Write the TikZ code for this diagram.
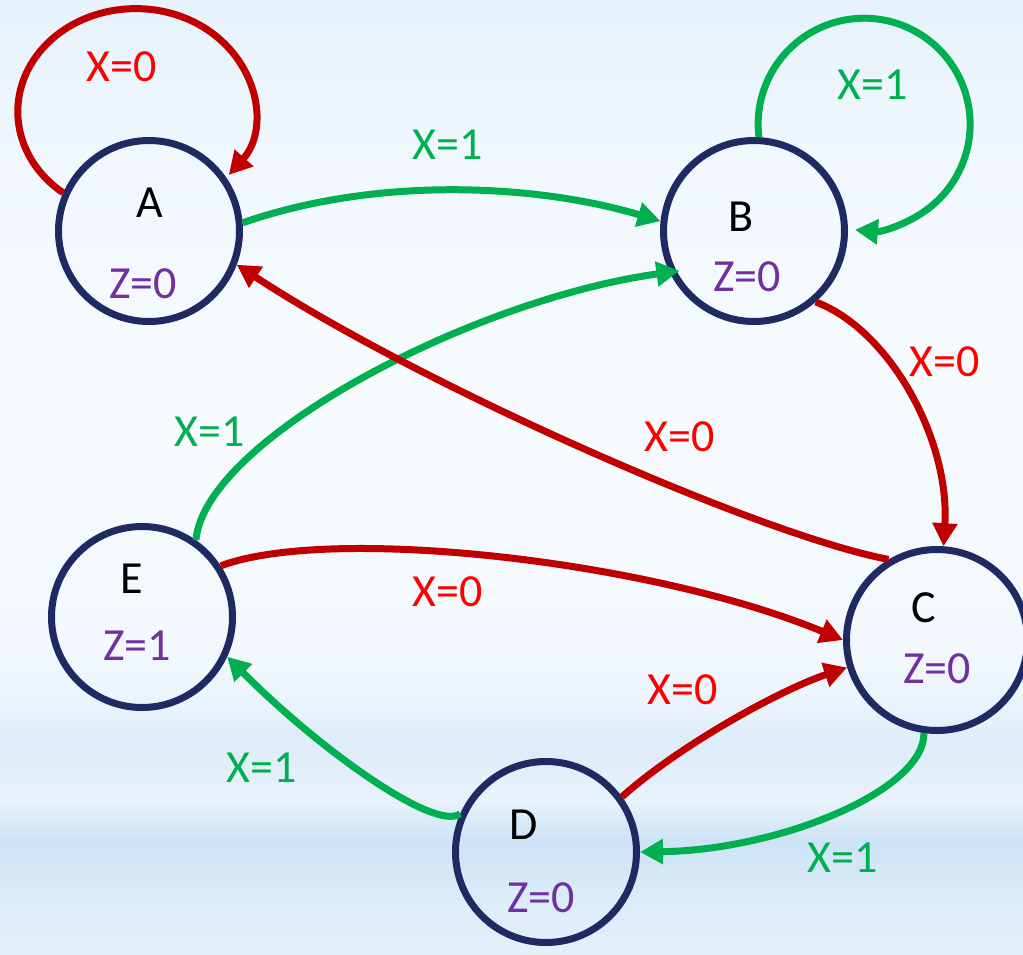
\documentclass[tikz,border=0pt]{standalone}
\usepackage{fontspec}
\setmainfont{Carlito}
\usetikzlibrary{arrows.meta}
\definecolor{edgered}{HTML}{C00000}
\definecolor{edgegreen}{HTML}{00B050}
\definecolor{labred}{HTML}{FF0000}
\definecolor{labgreen}{HTML}{00B050}
\definecolor{navy}{HTML}{1F2A62}
\definecolor{zpurple}{HTML}{7030A0}
\definecolor{bgA}{HTML}{E4F0FB}
\definecolor{bgB}{HTML}{DCECF9}
\definecolor{bgC}{HTML}{CDE3F6}
\definecolor{bgD}{HTML}{E8F2FB}
\definecolor{bgE}{HTML}{DDECF9}
\definecolor{bgF}{HTML}{EBF4FC}
\definecolor{bgG}{HTML}{F2F8FD}
\definecolor{bgH}{HTML}{F7FBFE}
\definecolor{bgI}{HTML}{F0F7FD}
\definecolor{bgJ}{HTML}{E6F2FC}
\pgfdeclareverticalshading{bgshade}{100bp}{color(0bp)=(bgA); color(25bp)=(bgA); color(27.83bp)=(bgB); color(30.97bp)=(bgC); color(33.07bp)=(bgD); color(36.06bp)=(bgE); color(38.31bp)=(bgF); color(40.93bp)=(bgG); color(54.04bp)=(bgH); color(67.14bp)=(bgI); color(75bp)=(bgJ); color(100bp)=(bgJ)}
\begin{document}
\begin{tikzpicture}[x=1pt,y=-1pt,
  stnode/.style={circle, draw=navy, line width=7pt, minimum size=181pt, inner sep=0pt},
  lab/.style={font=\fontsize{46}{50}\selectfont, inner sep=0pt},
  redarr/.style={draw=edgered, line width=7pt, -{Triangle[length=23pt,width=24pt]}},
  greenarr/.style={draw=edgegreen, line width=7pt, -{Triangle[length=23pt,width=24pt]}}]
\useasboundingbox (0,0) rectangle (1023,954);
\shade[shading=bgshade] (0,0) rectangle (1023,954);

% states
\node[stnode] (A) at (149,231) {};
\node[stnode] (B) at (754,231) {};
\node[stnode] (C) at (937,640) {};
\node[stnode] (D) at (546,852) {};
\node[stnode] (E) at (142,617) {};

% state texts
\node[lab] (An) at (150,203) {A};
\node[lab, text=zpurple] (Az) at (143,284) {Z=0};
\node[lab] (Bn) at (741,217) {B};
\node[lab, text=zpurple] (Bz) at (747,277) {Z=0};
\node[lab] (Cn) at (924,608) {C};
\node[lab, text=zpurple] (Cz) at (937,669) {Z=0};
\node[lab] (Dn) at (524,825) {D};
\node[lab, text=zpurple] (Dz) at (541,898) {Z=0};
\node[lab] (En) at (132,579) {E};
\node[lab, text=zpurple] (Ez) at (137,646) {Z=1};

% edges
\draw[redarr] (A.156) arc[start angle=232, end angle=-38, x radius=118pt, y radius=103pt];
\draw[greenarr] (B.87) arc[start angle=187, end angle=-95, radius=106pt];
\draw[greenarr] (A.5) .. controls (380,175) and (540,185) .. (B.174);
\draw[greenarr, shorten >=-10pt] (E.55) .. controls (205,440) and (470,300) .. (B.206);
\draw[redarr] (C.121) .. controls (760,535) and (420,385) .. (A.-21);
\draw[redarr] (B.-49) .. controls (890,330) and (950,440) .. (C.86);
\draw[redarr] (E.33) .. controls (330,525) and (650,560) .. (C.180);
\draw[redarr] (D.36) .. controls (680,745) and (780,690) .. (C.197);
\draw[greenarr] (D.156) .. controls (435,832) and (320,750) .. (E.-25);
\draw[greenarr] (C.262) .. controls (925,790) and (780,850) .. (D.0);

% edge labels
\node[lab, text=labred] (l1) at (122,67) {X=0};
\node[lab, text=labgreen] (l2) at (448,145) {X=1};
\node[lab, text=labgreen] (l3) at (873,85) {X=1};
\node[lab, text=labred] (l4) at (945,362) {X=0};
\node[lab, text=labred] (l5) at (680,437) {X=0};
\node[lab, text=labgreen] (l6) at (210,432) {X=1};
\node[lab, text=labred] (l7) at (448,592) {X=0};
\node[lab, text=labred] (l8) at (683,690) {X=0};
\node[lab, text=labgreen] (l9) at (262,768) {X=1};
\node[lab, text=labgreen] (l10) at (843,858) {X=1};
\end{tikzpicture}
\end{document}
